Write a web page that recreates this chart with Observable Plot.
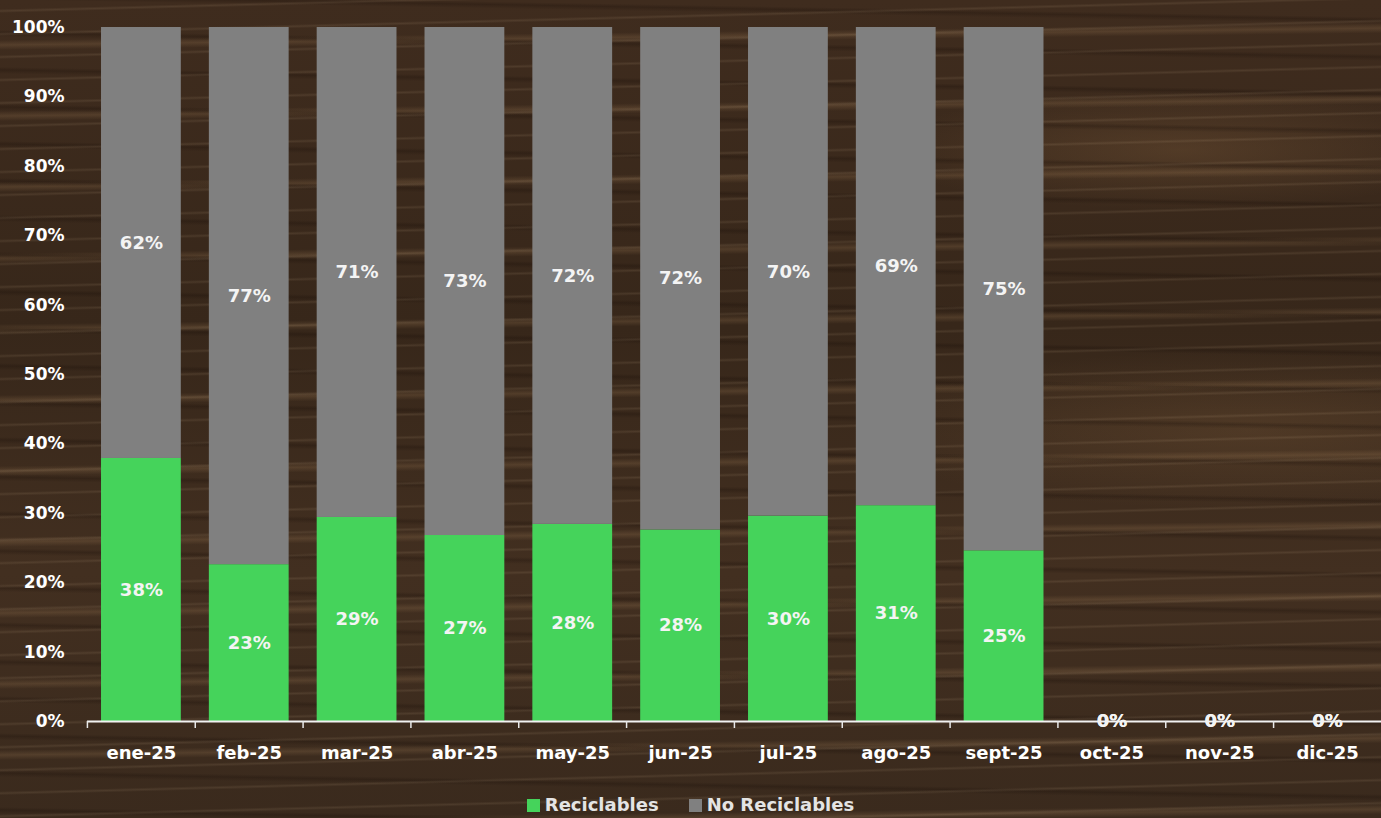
<!DOCTYPE html>
<html>
<head>
<meta charset="utf-8">
<script src="https://cdn.jsdelivr.net/npm/d3@7"></script>
<script src="https://cdn.jsdelivr.net/npm/@observablehq/plot@0.6"></script>
<style>
  html, body { margin: 0; padding: 0; }
  body {
    width: 1381px; height: 818px; overflow: hidden;
    background-color: #3c2a1d;
    background-image:
      repeating-linear-gradient(178.5deg, rgba(255,235,200,0.00) 0px, rgba(255,235,200,0.00) 9px, rgba(230,200,160,0.10) 11px, rgba(255,235,200,0.00) 13px, rgba(255,235,200,0.0) 23px),
      repeating-linear-gradient(181deg, rgba(0,0,0,0.0) 0px, rgba(0,0,0,0.0) 17px, rgba(20,10,5,0.25) 20px, rgba(0,0,0,0.0) 24px, rgba(0,0,0,0.0) 37px),
      repeating-linear-gradient(179.3deg, rgba(180,140,95,0.0) 0px, rgba(180,140,95,0.0) 40px, rgba(190,150,105,0.18) 45px, rgba(180,140,95,0.0) 50px, rgba(180,140,95,0.0) 71px),
      radial-gradient(ellipse 300px 60px at 1180px 150px, rgba(150,110,70,0.25), rgba(0,0,0,0)),
      radial-gradient(ellipse 400px 80px at 1250px 430px, rgba(150,110,70,0.22), rgba(0,0,0,0)),
      linear-gradient(180deg, #3f2c1e 0%, #37271a 40%, #422f20 70%, #3a2a1d 100%);
    font-family: "DejaVu Sans", sans-serif;
  }
  #legend {
    display: flex; justify-content: center; align-items: center; gap: 30px;
    height: 28px; color: #e4e4e4; font-size: 18px; font-weight: bold; font-family: "DejaVu Sans", sans-serif;
  }
  #legend span.sw { display: inline-block; width: 13px; height: 13px; margin-right: 5px; vertical-align: -1px; }
</style>
</head>
<body>
<div id="chart"></div>
<div id="legend"></div>
<script>
const months = ["ene-25","feb-25","mar-25","abr-25","may-25","jun-25","jul-25","ago-25","sept-25","oct-25","nov-25","dic-25"];
const reciclables   = [0.379,0.226,0.294,0.268,0.284,0.276,0.296,0.311,0.246,0,0,0];
const noReciclables = [0.621,0.774,0.706,0.732,0.716,0.724,0.704,0.689,0.754,0,0,0];
const seriesNames = ["Reciclables","No Reciclables"];
const seriesColors = ["#45d35b","#808080"];
const yTicks = [0,0.1,0.2,0.3,0.4,0.5,0.6,0.7,0.8,0.9,1];

const data = [];
months.forEach((m,i) => {
  data.push({month: m, series: seriesNames[0], value: reciclables[i]});
  data.push({month: m, series: seriesNames[1], value: noReciclables[i]});
});
const pct = d3.format(".0%");

const chart = Plot.plot({
  width: 1381,
  height: 790,
  marginTop: 27,
  marginBottom: 69,
  marginLeft: 87,
  marginRight: 0,
  style: {background: "transparent", color: "white", fontFamily: "DejaVu Sans", fontWeight: "bold", overflow: "visible", display: "block"},
  x: {domain: months, paddingInner: 0.26, paddingOuter: 0.13, round: false},
  y: {domain: [0,1]},
  color: {domain: seriesNames, range: seriesColors},
  marks: [
    Plot.barY(data, Plot.stackY({x: "month", y: "value", z: "series", fill: "series", order: seriesNames})),
    Plot.text(data, Plot.stackY({x: "month", y: "value", z: "series", order: seriesNames,
      text: d => pct(d.value), fill: "#f4f4f4", fontSize: 18, fontWeight: "bold"})),
    Plot.ruleY([0], {stroke: "#f2f2f2", strokeWidth: 2}),
    Plot.axisY({ticks: yTicks, tickFormat: pct, tickSize: 0, tickPadding: 23, fontSize: 17, fontWeight: "bold", label: null}),
    Plot.axisX({tickSize: 0, tickPadding: 25, fontSize: 18, fontWeight: "bold", label: null}),
    Plot.axisX({tickSize: 7, tickFormat: () => "", dx: -54, stroke: "#e8e8e8", strokeWidth: 1.5, label: null})
  ]
});
document.getElementById("chart").appendChild(chart);

const lg = document.getElementById("legend");
seriesNames.forEach((s,i) => {
  const d = document.createElement("div");
  d.innerHTML = `<span class="sw" style="background:${seriesColors[i]}"></span>${s}`;
  lg.appendChild(d);
});
</script>
</body>
</html>
